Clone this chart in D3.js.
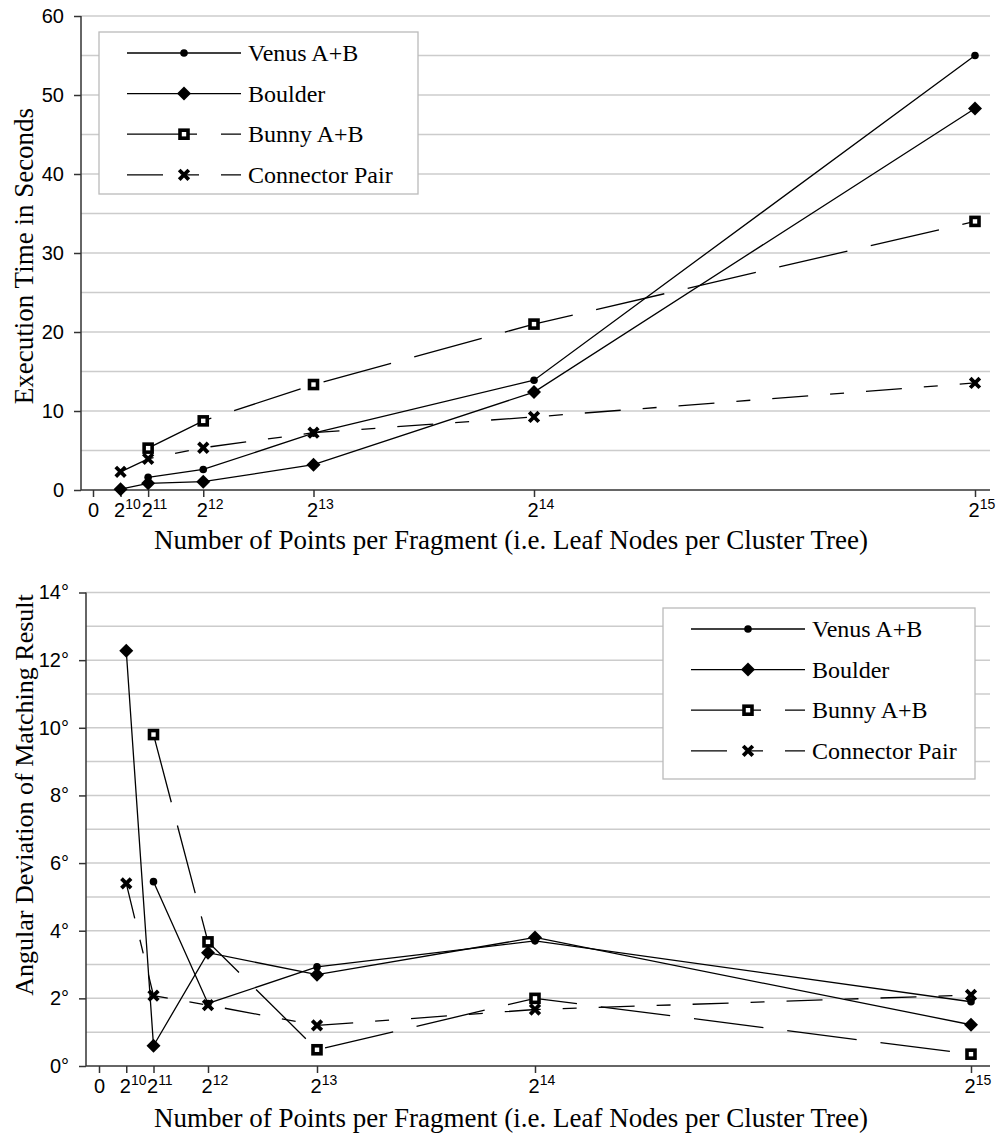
<!DOCTYPE html>
<html>
<head>
<meta charset="utf-8">
<script src="https://cdn.jsdelivr.net/npm/d3@7"></script>
<style>
  body { margin: 0; background: #fff; }
  svg { display: block; }
  .eje text { font-family: "Liberation Sans", Arial, sans-serif; font-size: 20px; fill: #000; }
  .eje path, .eje line { stroke: #333; stroke-width: 1.5; }
  .titulo { font-family: "Liberation Serif", "Times New Roman", serif; fill: #000; }
</style>
</head>
<body>
<div id="graf"></div>
<script>
// I. Datos

puntos = [1024, 2048, 4096, 8192, 16384, 32768]
ticksX = [0, 1024, 2048, 4096, 8192, 16384, 32768]
nombres = ['Venus A+B', 'Boulder', 'Bunny A+B', 'Connector Pair']

// tiempo de ejecucion en segundos
tiempoVenus = [null, 1.6, 2.6, 7.2, 13.9, 55.0]
tiempoBoulder = [0.1, 0.85, 1.05, 3.2, 12.4, 48.3]
tiempoBunny = [null, 5.3, 8.75, 13.35, 21.0, 34.0]
tiempoConnector = [2.3, 3.95, 5.35, 7.25, 9.25, 13.55]
ticksTiempo = [0, 10, 20, 30, 40, 50, 60]

// desviacion angular en grados
anguloVenus = [null, 5.45, 1.85, 2.93, 3.7, 1.9]
anguloBoulder = [12.28, 0.6, 3.35, 2.7, 3.8, 1.22]
anguloBunny = [null, 9.8, 3.67, 0.48, 2.0, 0.35]
anguloConnector = [5.4, 2.08, 1.8, 1.2, 1.67, 2.1]
ticksAngulo = [0, 2, 4, 6, 8, 10, 12, 14]

// II. Configuracion

estilos = [
  { marca: 'punto', guion: null },
  { marca: 'rombo', guion: null },
  { marca: 'cuadro', guion: '70,24' },
  { marca: 'cruz', guion: '36,22,14,22' }
]

svg = d3.select('#graf').append('svg')
  .attr('width', 997)
  .attr('height', 1136)

function marcador(g, tipo) {
  if (tipo == 'punto') {
    g.append('circle').attr('r', 3.8).attr('fill', '#000')
  } else if (tipo == 'rombo') {
    g.append('path').attr('d', 'M0,-7L7,0L0,7L-7,0Z').attr('fill', '#000')
  } else if (tipo == 'cuadro') {
    g.append('rect')
      .attr('x', -4).attr('y', -4).attr('width', 8).attr('height', 8)
      .attr('fill', '#fff').attr('stroke', '#000').attr('stroke-width', 3.6)
  } else {
    g.append('path').attr('d', 'M-4.8,-4.8L4.8,4.8M-4.8,4.8L4.8,-4.8')
      .attr('stroke', '#000').attr('stroke-width', 3.8)
  }
}

function dibujar(c) {
  g = svg.append('g')

  x = d3.scaleLinear().domain([0, 32768]).range(c.rangoX)
  y = d3.scaleLinear().domain(c.dominioY).range(c.rangoY)

  // lineas de la rejilla
  g.append('g').selectAll('line')
    .data(d3.range(c.paso, c.dominioY[1] + c.paso / 2, c.paso))
    .join('line')
    .attr('x1', c.izq).attr('x2', c.der)
    .attr('y1', d => y(d)).attr('y2', d => y(d))
    .attr('stroke', '#cccccc')
    .attr('stroke-width', 1.5)

  // eje Y
  yAxisGroup = g.append('g')
    .attr('class', 'eje')
    .attr('transform', `translate(${c.izq}, 0)`)
    .call(d3.axisLeft(y).tickValues(c.ticksY).tickSize(7).tickPadding(10)
      .tickSizeOuter(0).tickFormat(c.formatoY))
  yAxisGroup.select('.domain').remove()
  yAxisGroup.append('line')
    .attr('y1', y(c.dominioY[0])).attr('y2', y(c.dominioY[1]))

  // eje X
  xAxisGroup = g.append('g')
    .attr('class', 'eje')
    .attr('transform', `translate(0, ${y(0)})`)
    .call(d3.axisBottom(x).tickValues(ticksX).tickSize(7).tickPadding(6).tickSizeOuter(0))
  xAxisGroup.select('.domain').remove()
  xAxisGroup.append('line').attr('x1', c.izq).attr('x2', c.der)

  xAxisGroup.selectAll('.tick text').each(function (d) {
    t = d3.select(this).text(null)
    if (d == 0) { t.text('0'); return }
    t.attr('text-anchor', 'start').attr('x', -7)
    t.append('tspan').text('2')
    t.append('tspan').attr('dy', -8).attr('font-size', '14px').text(Math.log2(d))
  })

  // series
  valueline = d3.line()
    .defined(d => d[1] != null)
    .x(d => x(d[0]))
    .y(d => y(d[1]))

  c.valores.forEach((serie, i) => {
    datos = puntos.map((p, j) => [p, serie[j]])
    g.append('path')
      .attr('d', valueline(datos))
      .attr('fill', 'none')
      .attr('stroke', '#000')
      .attr('stroke-width', 1.3)
      .attr('stroke-dasharray', estilos[i].guion)
  })

  c.valores.forEach((serie, i) => {
    datos = puntos.map((p, j) => [p, serie[j]]).filter(d => d[1] != null)
    g.append('g').selectAll('g')
      .data(datos)
      .join('g')
      .attr('transform', d => `translate(${x(d[0])}, ${y(d[1])})`)
      .each(function () { marcador(d3.select(this), estilos[i].marca) })
  })

  // leyenda
  ley = g.append('g').attr('transform', `translate(${c.leyenda[0]}, ${c.leyenda[1]})`)
  ley.append('rect')
    .attr('width', c.leyenda[2]).attr('height', c.leyenda[3])
    .attr('fill', '#fff').attr('stroke', '#bbbbbb').attr('stroke-width', 1.3)

  nombres.forEach((n, i) => {
    yy = 21 + i * 40.6
    fila = ley.append('g').attr('transform', `translate(28, ${yy})`)
    fila.append('line')
      .attr('x1', 0).attr('x2', 114)
      .attr('stroke', '#000').attr('stroke-width', 1.3)
      .attr('stroke-dasharray', estilos[i].guion)
    marcador(fila.append('g').attr('transform', 'translate(57, 0)'), estilos[i].marca)
    fila.append('text')
      .attr('class', 'titulo')
      .attr('x', 121).attr('y', 8)
      .style('font-size', '24px')
      .text(n)
  })

  // titulos
  g.append('text')
    .attr('class', 'titulo')
    .attr('x', 511).attr('y', c.tituloX)
    .attr('text-anchor', 'middle')
    .style('font-size', '27px')
    .text('Number of Points per Fragment (i.e. Leaf Nodes per Cluster Tree)')

  g.append('text')
    .attr('class', 'titulo')
    .attr('transform', `translate(33, ${c.tituloY[1]}) rotate(-90)`)
    .attr('text-anchor', 'middle')
    .style('font-size', c.tituloY[2])
    .text(c.tituloY[0])
}

dibujar({
  valores: [tiempoVenus, tiempoBoulder, tiempoBunny, tiempoConnector],
  dominioY: [0, 60], ticksY: ticksTiempo, paso: 5,
  rangoX: [93, 975], rangoY: [490, 16], izq: 81, der: 990,
  formatoY: d => d,
  leyenda: [99, 32, 319, 162],
  tituloX: 549,
  tituloY: ['Execution Time in Seconds', 256, '27px']
})

dibujar({
  valores: [anguloVenus, anguloBoulder, anguloBunny, anguloConnector],
  dominioY: [0, 14], ticksY: ticksAngulo, paso: 1,
  rangoX: [99, 971], rangoY: [1066, 592.5], izq: 86, der: 990,
  formatoY: d => d + '°',
  leyenda: [663, 608, 312, 171],
  tituloX: 1127,
  tituloY: ['Angular Deviation of Matching Result', 795, '26px']
})
</script>
</body>
</html>
